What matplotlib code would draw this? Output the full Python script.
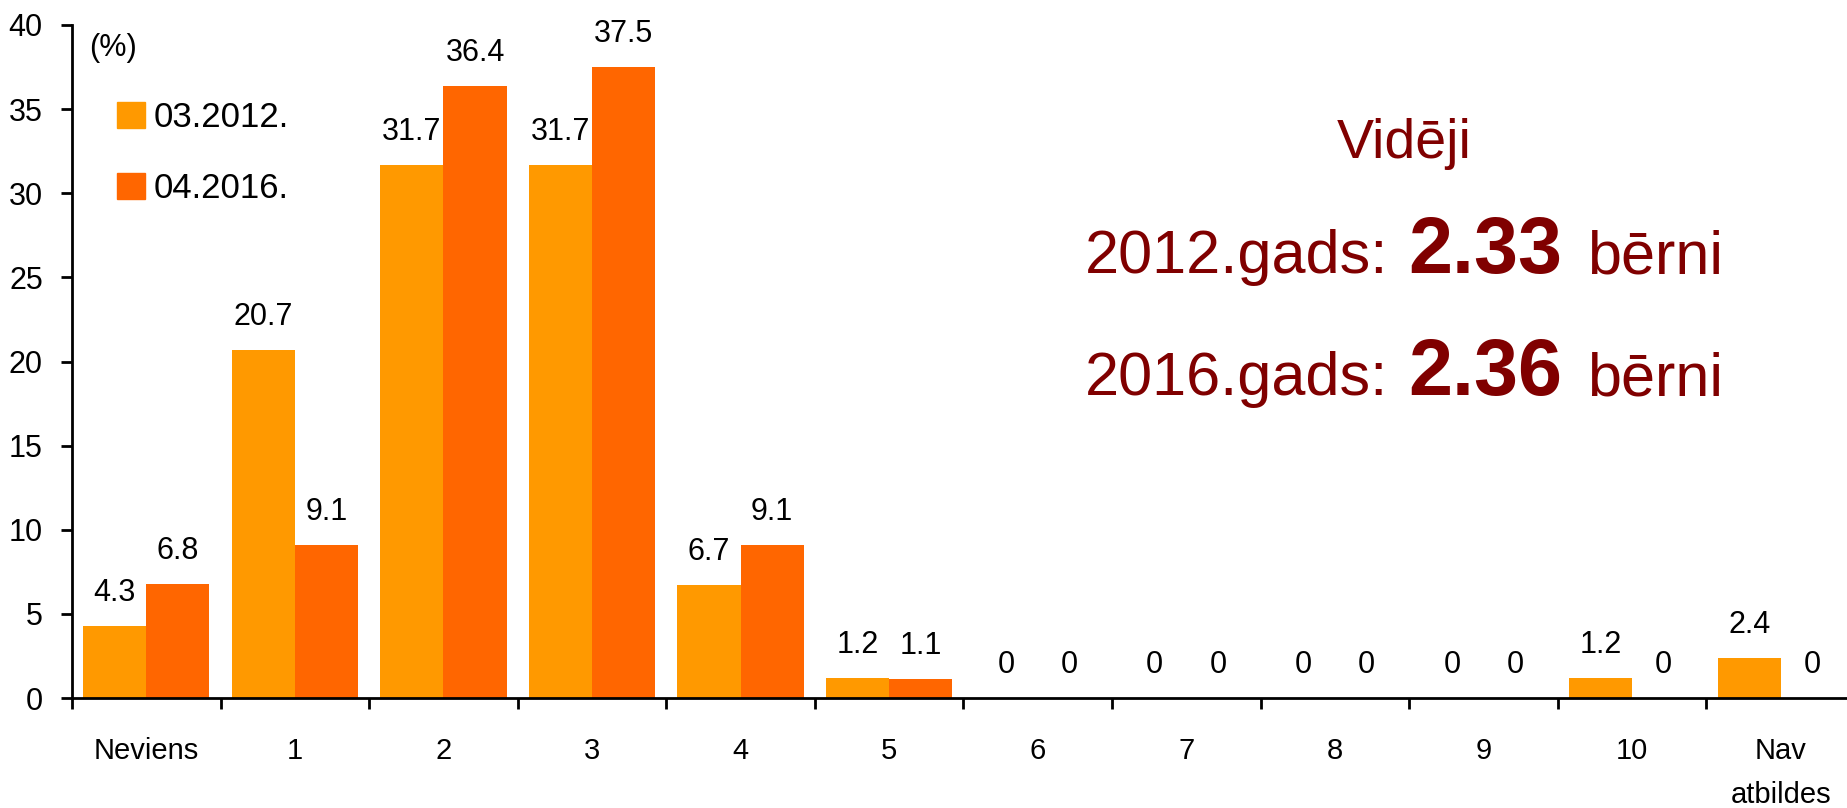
import matplotlib
matplotlib.use("Agg")
import matplotlib.pyplot as plt
from matplotlib.patches import Patch
import numpy as np

categories = ["Neviens", "1", "2", "3", "4", "5", "6", "7", "8", "9", "10", "Nav\natbildes"]
series_names = ["03.2012.", "04.2016."]
vals_2012 = [4.3, 20.7, 31.7, 31.7, 6.7, 1.2, 0, 0, 0, 0, 1.2, 2.4]
vals_2016 = [6.8, 9.1, 36.4, 37.5, 9.1, 1.1, 0, 0, 0, 0, 0, 0]
avg_lines = [("2012.gads:", "2.33", "bērni"), ("2016.gads:", "2.36", "bērni")]
colors = ["#FF9900", "#FF6600"]
dark_red = "#800000"

plt.rcParams["font.family"] = ["Liberation Sans Narrow", "Liberation Sans", "DejaVu Sans"]

W, H = 1847, 808
fig = plt.figure(figsize=(W / 100, H / 100), dpi=100)


def fx(px):
    return px / W


def fy(py):
    return 1 - py / H


ax = fig.add_axes([fx(72), fy(698), fx(1855) - fx(72), fy(25) - fy(698)])

x = np.arange(len(categories))
bw = 0.425
b1 = ax.bar(x - bw / 2, vals_2012, bw, color=colors[0], label=series_names[0])
b2 = ax.bar(x + bw / 2, vals_2016, bw, color=colors[1], label=series_names[1])

for bars, vals in [(b1, vals_2012), (b2, vals_2016)]:
    for bar, v in zip(bars, vals):
        ax.annotate(f"{v:g}", (bar.get_x() + bar.get_width() / 2, v),
                    xytext=(0, 13), textcoords="offset points",
                    ha="center", va="bottom", fontsize=22)

ax.set_xlim(-0.5, len(categories) - 0.5)
ax.set_ylim(0, 40)
ax.set_yticks(np.arange(0, 41, 5))
ax.set_xticks(x)
ax.set_xticklabels(categories, fontsize=21, linespacing=1.75, va="top")
ax.set_xticks(np.arange(-0.5, len(categories), 1.0), minor=True)
ax.tick_params(axis="x", which="major", length=0, pad=28)
ax.tick_params(axis="x", which="minor", length=8, width=2, direction="out")
ax.tick_params(axis="y", length=8, width=2, direction="out", pad=13, labelsize=22)
for s in ["top", "right"]:
    ax.spines[s].set_visible(False)
for s in ["left", "bottom"]:
    ax.spines[s].set_linewidth(2)

fig.text(fx(89), fy(48), "(%)", fontsize=22, va="center", ha="left")

handles = [Patch(color=c, label=n) for c, n in zip(colors, series_names)]
fig.legend(handles=handles, loc="upper left", bbox_to_anchor=(fx(117), fy(101)),
           frameon=False, fontsize=25, handlelength=0.8, handleheight=0.8,
           handletextpad=0.25, labelspacing=1.1, borderpad=0, borderaxespad=0)

# average annotation, pieces laid out side by side around a common centre
renderer = fig.canvas.get_renderer()
fig.text(fx(1404), fy(158), "Vidēji", fontsize=40, color=dark_red,
         ha="center", va="baseline")
centre_x = 1404
for (lbl, num, unit), base in zip(avg_lines, [273, 395]):
    pieces = [fig.text(0, fy(base), lbl, fontsize=44, color=dark_red, va="baseline"),
              fig.text(0, fy(base), num, fontsize=57, fontweight="bold", color=dark_red, va="baseline"),
              fig.text(0, fy(base), unit, fontsize=44, color=dark_red, va="baseline")]
    gaps = [20, 24]
    widths = [p.get_window_extent(renderer).width for p in pieces]
    total = sum(widths) + sum(gaps)
    left = centre_x - total / 2
    for p, w, g in zip(pieces, widths, gaps + [0]):
        p.set_x(fx(left))
        left += w + g

fig.savefig("out.png", dpi=100)
